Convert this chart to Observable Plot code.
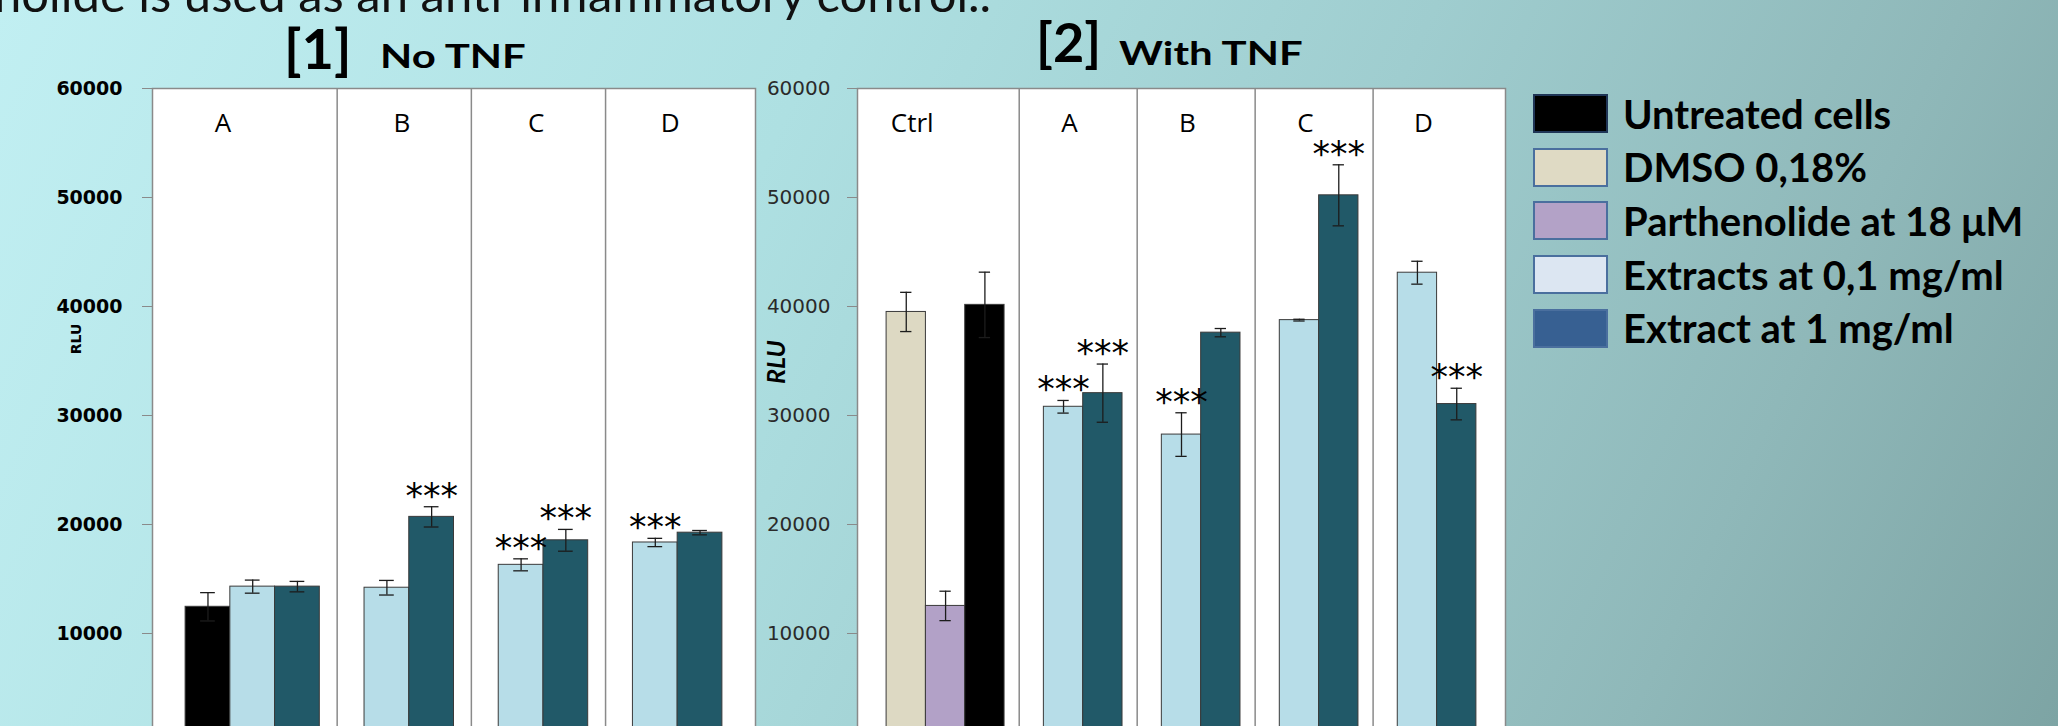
<!DOCTYPE html>
<html>
<head>
<meta charset="utf-8">
<script src="https://cdn.jsdelivr.net/npm/d3@7"></script>
<script src="https://cdn.jsdelivr.net/npm/@observablehq/plot@0.6"></script>
<style>
html, body { margin: 0; padding: 0; }
body {
  width: 2058px; height: 726px; overflow: hidden; position: relative;
  background: linear-gradient(115deg, #c1eff2 0%, #aee0e2 35%, #9fcdcf 60%, #8fb8b9 82%, #7da4a4 100%);
  font-family: Lato, sans-serif;
}
.abs { position: absolute; white-space: nowrap; line-height: 1; }
#topText { left: -6px; top: -31px; font-size: 49px; color: #111; }
.bracket { font-weight: 700; color: #000; }
.ttl { font-weight: 700; color: #000; font-size: 33px; transform: scaleX(1.27); transform-origin: left center; }
#rlu1 { font-family: "DejaVu Sans"; font-weight: bold; font-size: 14px; color: #000; transform: translate(-50%, -50%) rotate(-90deg); }
#rlu2 { font-family: Lato; font-weight: bold; font-style: italic; font-size: 25px; color: #000; transform: translate(-50%, -50%) rotate(-90deg); }
#legend { left: 1533px; top: 87px; }
.lrow { display: flex; align-items: center; height: 53.6px; }
.sw { width: 75px; height: 39px; box-sizing: border-box; border: 2px solid #4a6f9e; }
.lt { margin-left: 15px; font-size: 40px; font-weight: 700; color: #000; line-height: 1; }
</style>
</head>
<body>
<div id="topText" class="abs">nolide is used as an anti-inflammatory control..</div>
<div id="p1" class="abs" style="left:0;top:0;line-height:0"></div>
<div id="p2" class="abs" style="left:757px;top:0;line-height:0"></div>
<div class="abs bracket" style="left:284px;top:20px;font-size:56px">[1]</div>
<div class="abs ttl" style="left:380px;top:39px">No TNF</div>
<div class="abs bracket" style="left:1036px;top:15px;font-size:54px">[2]</div>
<div class="abs ttl" style="left:1119px;top:36px">With TNF</div>
<div id="rlu1" class="abs" style="left:76px;top:339px">RLU</div>
<div id="rlu2" class="abs" style="left:775px;top:362px">RLU</div>
<div id="legend" class="abs"></div>
<script>
// ---------- data ----------
const seriesNames  = ["Untreated cells", "DMSO 0,18%", "Parthenolide at 18 μM", "Extracts at 0,1 mg/ml", "Extract at 1 mg/ml"];
const barColors    = ["#000000", "#ddd9c3", "#b2a1c7", "#b7dde8", "#215968"];
const legendColors = ["#000000", "#dfdac4", "#b3a2c7", "#dce6f2", "#376092"];
const yTicks = [10000, 20000, 30000, 40000, 50000, 60000];

// Panel [1] No TNF
const noTnfGroup  = ["A", "A", "A", "B", "B", "C", "C", "D", "D"];
const noTnfSeries = ["Untreated cells", "Extracts at 0,1 mg/ml", "Extract at 1 mg/ml",
                     "Extracts at 0,1 mg/ml", "Extract at 1 mg/ml",
                     "Extracts at 0,1 mg/ml", "Extract at 1 mg/ml",
                     "Extracts at 0,1 mg/ml", "Extract at 1 mg/ml"];
const noTnfValue  = [12450, 14300, 14300, 14200, 20700, 16300, 18550, 18350, 19250];
const noTnfError  = [1300, 600, 480, 670, 930, 550, 1000, 380, 200];
const noTnfStars  = ["", "", "", "", "***", "***", "***", "***", ""];

// Panel [2] With TNF
const withTnfGroup  = ["Ctrl", "Ctrl", "Ctrl", "A", "A", "B", "B", "C", "C", "D", "D"];
const withTnfSeries = ["DMSO 0,18%", "Parthenolide at 18 μM", "Untreated cells",
                       "Extracts at 0,1 mg/ml", "Extract at 1 mg/ml",
                       "Extracts at 0,1 mg/ml", "Extract at 1 mg/ml",
                       "Extracts at 0,1 mg/ml", "Extract at 1 mg/ml",
                       "Extracts at 0,1 mg/ml", "Extract at 1 mg/ml"];
const withTnfValue  = [39500, 12530, 40150, 30800, 32050, 28250, 37600, 38750, 50200, 43100, 31050];
const withTnfError  = [1800, 1350, 3000, 580, 2670, 2000, 380, 80, 2800, 1050, 1450];
const withTnfStars  = ["", "", "", "***", "***", "***", "", "", "***", "", "***"];

// ---------- chart builder ----------
function panel(groups, series, values, errors, stars, cfg) {
  const rows = values.map((v, i) => ({
    group: groups[i], series: series[i], value: v, error: errors[i], stars: stars[i],
    slot: groups[i] + "|" + series[i]
  }));
  const groupOrder = [...new Set(groups)];
  const domain = [], gaps = [];
  groupOrder.forEach((g, gi) => {
    rows.filter(r => r.group === g).forEach(r => domain.push(r.slot));
    if (gi < groupOrder.length - 1) { domain.push(g + "|gap"); gaps.push(g + "|gap"); }
  });
  const labels = groupOrder.map(g => ({group: g, slot: rows.find(r => r.group === g).slot}));
  const errStroke = {stroke: "#1c1c1c", strokeWidth: 1.3};
  return Plot.plot({
    width: cfg.width, height: 742,
    marginTop: 88, marginBottom: 0, marginLeft: cfg.marginLeft, marginRight: 2,
    x: {type: "band", domain, paddingInner: 0, paddingOuter: 0.74, round: false, axis: null},
    y: {domain: [0, 60000], axis: null},
    color: {domain: seriesNames, range: barColors},
    style: {background: "transparent", maxWidth: "none", overflow: "visible"},
    marks: [
      Plot.frame({fill: "white", stroke: null}),
      Plot.ruleX(gaps, {stroke: "#8a8a8a", strokeWidth: 1.5, dx: -5}),
      Plot.barY(rows, {x: "slot", y: "value", fill: "series", stroke: "#3a3a3a", strokeWidth: 1}),
      Plot.ruleX(rows, {x: "slot", y1: d => d.value - d.error, y2: d => d.value + d.error, ...errStroke}),
      Plot.tickY(rows, {x: "slot", y: d => d.value + d.error, insetLeft: cfg.capInset, insetRight: cfg.capInset, ...errStroke}),
      Plot.tickY(rows, {x: "slot", y: d => d.value - d.error, insetLeft: cfg.capInset, insetRight: cfg.capInset, ...errStroke}),
      Plot.text(rows.filter(r => r.stars), {x: "slot", y: d => d.value + d.error, text: "stars",
        lineAnchor: "bottom", dy: 1, fontSize: 35, fontFamily: "DejaVu Sans", fill: "#000"}),
      Plot.text(labels, {x: "slot", text: "group", frameAnchor: "top", lineAnchor: "middle", dy: 35, dx: cfg.labelDx,
        fontSize: 26, fontFamily: "Open Sans", fill: "#000"}),
      Plot.frame({stroke: "#8a8a8a", strokeWidth: 1.5}),
      Plot.axisY(yTicks, {tickSize: 10, tickPadding: cfg.tickPadding, tickFormat: d3.format("d"),
        fontSize: cfg.tickFontSize, fontWeight: cfg.tickWeight, fontFamily: "DejaVu Sans",
        fill: cfg.tickColor, stroke: "#8a8a8a", label: null})
    ]
  });
}

document.getElementById("p1").append(panel(noTnfGroup, noTnfSeries, noTnfValue, noTnfError, noTnfStars,
  {width: 757, marginLeft: 152, capInset: 15, labelDx: 15, tickPadding: 20, tickFontSize: 19, tickWeight: "bold", tickColor: "#000"}));
document.getElementById("p2").append(panel(withTnfGroup, withTnfSeries, withTnfValue, withTnfError, withTnfStars,
  {width: 750, marginLeft: 100, capInset: 14, labelDx: 6, tickPadding: 17, tickFontSize: 20, tickWeight: "normal", tickColor: "#2a2a2a"}));

// ---------- legend ----------
const legend = document.getElementById("legend");
seriesNames.forEach((name, i) => {
  const row = document.createElement("div");
  row.className = "lrow";
  const sw = document.createElement("div");
  sw.className = "sw";
  sw.style.background = legendColors[i];
  if (i === 0) sw.style.borderColor = "#1f3556";
  const t = document.createElement("div");
  t.className = "lt";
  t.textContent = name;
  row.append(sw, t);
  legend.append(row);
});
</script>
</body>
</html>
